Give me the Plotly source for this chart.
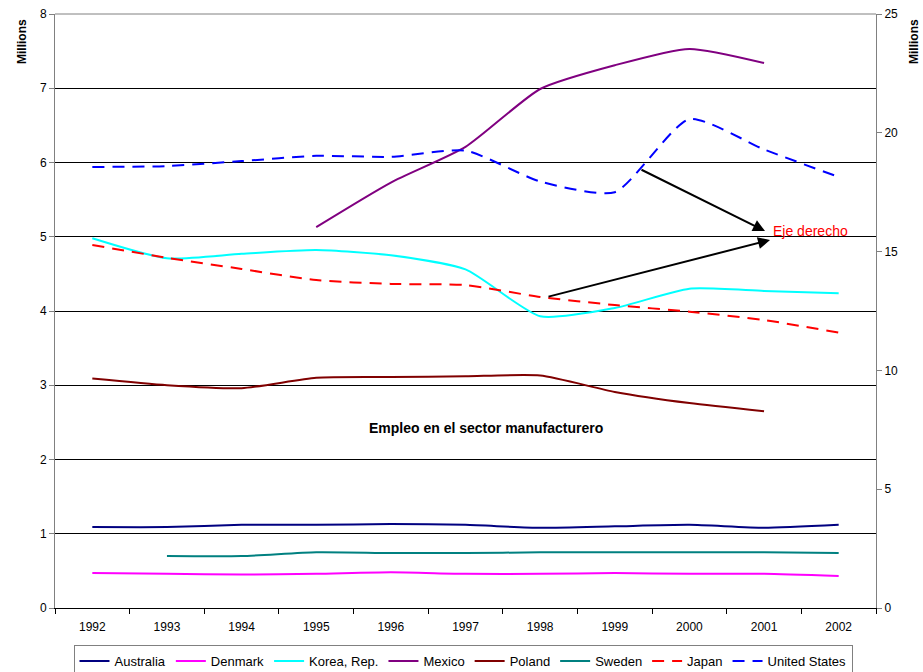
import plotly.graph_objects as go

years = ['1992', '1993', '1994', '1995', '1996', '1997', '1998', '1999', '2000', '2001', '2002']

australia = [1.09, 1.09, 1.12, 1.12, 1.13, 1.12, 1.08, 1.10, 1.12, 1.08, 1.12]
denmark = [0.47, 0.46, 0.45, 0.46, 0.48, 0.46, 0.46, 0.47, 0.46, 0.46, 0.43]
korea = [4.98, 4.71, 4.77, 4.82, 4.75, 4.56, 3.93, 4.04, 4.30, 4.27, 4.24]
mexico = [None, None, None, 5.13, 5.73, 6.21, 6.99, 7.31, 7.53, 7.34, None]
poland = [3.09, 3.00, 2.96, 3.10, 3.11, 3.12, 3.13, 2.91, 2.76, 2.65, None]
sweden = [None, 0.70, 0.70, 0.75, 0.74, 0.74, 0.75, 0.75, 0.75, 0.75, 0.74]
japan = [15.28, 14.74, 14.27, 13.80, 13.64, 13.59, 13.09, 12.75, 12.47, 12.12, 11.59]
united_states = [18.56, 18.60, 18.81, 19.03, 18.99, 19.25, 17.95, 17.50, 20.58, 19.30, 18.14]

left_series = [
    ('Australia', australia, '#000080'),
    ('Denmark', denmark, '#FF00FF'),
    ('Korea, Rep.', korea, '#00FFFF'),
    ('Mexico', mexico, '#800080'),
    ('Poland', poland, '#800000'),
    ('Sweden', sweden, '#008080'),
]
right_series = [
    ('Japan', japan, '#FF0000'),
    ('United States', united_states, '#0000FF'),
]

fig = go.Figure()
for name, vals, col in left_series:
    fig.add_trace(go.Scatter(x=years, y=vals, name=name, mode='lines',
                             line=dict(color=col, width=2, shape='spline', smoothing=0.6),
                             connectgaps=False))
for name, vals, col in right_series:
    fig.add_trace(go.Scatter(x=years, y=vals, name=name, mode='lines', yaxis='y2',
                             line=dict(color=col, width=2, shape='spline', smoothing=0.6,
                                       dash='12px,8px')))

W, H = 923, 672
L, R, T, B = 55, 876, 14, 608

def px(x):
    return (x - L) / (R - L)

def py(y):
    return (B - y) / (B - T)

fig.update_layout(
    width=W, height=H,
    margin=dict(l=L, r=W - R, t=T, b=H - B, autoexpand=False),
    paper_bgcolor='white', plot_bgcolor='white',
    font=dict(family='Liberation Sans, Arial, sans-serif', size=12, color='black'),
    showlegend=True,
    legend=dict(orientation='h', x=px(463), xanchor='center', y=py(645), yanchor='top',
                bordercolor='#808080', borderwidth=1, font=dict(size=13),
                tracegroupgap=0, itemwidth=30),
    xaxis=dict(type='category', range=[-0.5, 10.5], tickson='boundaries', ticks='outside',
               ticklen=5, tickcolor='black', showline=True, linecolor='black', linewidth=1,
               showgrid=False, tickfont=dict(size=12), automargin=False,
               ticklabelstandoff=8),
    yaxis=dict(range=[0, 8], dtick=1, ticks='outside', ticklen=5, tickcolor='#808080',
               showline=True, linecolor='#808080', linewidth=1,
               showgrid=True, gridcolor='#000000', gridwidth=1, zeroline=False,
               tickfont=dict(size=12), automargin=False),
    yaxis2=dict(range=[0, 25], dtick=5, overlaying='y', side='right', ticks='outside',
                ticklen=5, tickcolor='#808080', showline=True, linecolor='#808080',
                linewidth=1, showgrid=False, zeroline=False, tickfont=dict(size=12),
                automargin=False),
    shapes=[dict(type='line', xref='paper', yref='paper', x0=0, x1=1, y0=1, y1=1,
                 line=dict(color='#808080', width=1))],
)

annotations = [
    dict(text='<b>Millions</b>', xref='paper', yref='paper', x=px(22), y=py(42),
         xanchor='center', yanchor='middle',
         textangle=-90, showarrow=False, font=dict(size=12)),
    dict(text='<b>Millions</b>', xref='paper', yref='paper', x=px(914), y=py(42),
         xanchor='center', yanchor='middle',
         textangle=-90, showarrow=False, font=dict(size=12)),
    dict(text='<b>Empleo en el sector manufacturero</b>', xref='paper', yref='paper',
         x=px(486), y=py(428), xanchor='center', yanchor='middle',
         showarrow=False, font=dict(size=14)),
    dict(text='Eje derecho', xref='paper', yref='paper', x=px(810), y=py(231),
         xanchor='center', yanchor='middle',
         showarrow=False, font=dict(size=14, color='#FF0000')),
    dict(text='', xref='paper', yref='paper', x=px(765), y=py(231),
         ax=640 - 765, ay=169 - 231, showarrow=True, arrowhead=2, arrowsize=1.2,
         arrowwidth=2, arrowcolor='black'),
    dict(text='', xref='paper', yref='paper', x=px(770), y=py(240),
         ax=547 - 770, ay=297 - 240, showarrow=True, arrowhead=2, arrowsize=1.2,
         arrowwidth=2, arrowcolor='black'),
]
fig.update_layout(annotations=annotations)

fig.write_html('out.html', config={'displayModeBar': False},
               post_script="document.body.style.margin='0';document.body.style.padding='0';document.body.style.overflow='hidden';")
